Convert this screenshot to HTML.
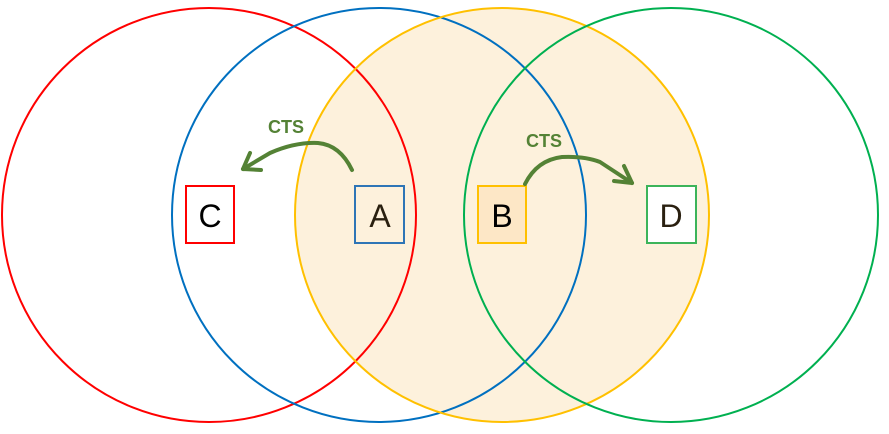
<!DOCTYPE html>
<html><head><style>body{margin:0;background:#fff}</style></head><body>
<svg width="889" height="429" viewBox="0 0 889 429" xmlns="http://www.w3.org/2000/svg" font-family="Liberation Sans, sans-serif">
<circle cx="502" cy="215" r="207" fill="#fdf1dc"/>
<circle cx="209" cy="215" r="207" fill="none" stroke="#ff0000" stroke-width="2"/>
<circle cx="379" cy="215" r="207" fill="none" stroke="#0070c0" stroke-width="2"/>
<circle cx="502" cy="215" r="207" fill="none" stroke="#ffc000" stroke-width="2"/>
<circle cx="671" cy="215" r="207" fill="none" stroke="#00b050" stroke-width="2"/>
<rect x="186" y="186" width="48" height="57" fill="#fff" stroke="#ff0000" stroke-width="2"/>
<rect x="355" y="186" width="49" height="57" fill="none" stroke="#2e75b6" stroke-width="2"/>
<rect x="478" y="186" width="48" height="57" fill="#fde7c6" stroke="#ffc000" stroke-width="2"/>
<rect x="647" y="186" width="49" height="57" fill="#fff" stroke="#3cb45a" stroke-width="2"/>
<g font-size="32" text-anchor="middle" fill="#000">
<text x="210" y="227">C</text><text x="380" y="227" fill="#2a2010">A</text><text x="502" y="227">B</text><text x="671" y="227" fill="#2a2010">D</text>
</g>
<g fill="none" stroke="#548235" stroke-width="4" stroke-linecap="round" stroke-linejoin="round">
<path d="M352,170 Q340,145 318,143 Q295,142 270,153 L243,169"/>
<path d="M243,169 L250,153 M243,169 L261,170"/>
<path d="M525,184 Q537,160 562,157 Q585,156 600,162 L632,183"/>
<path d="M632,183 L624,166 M632,183 L614,181"/>
</g>
<g font-size="18" font-weight="bold" fill="#548235">
<text x="268" y="133">CTS</text><text x="526" y="147">CTS</text>
</g>
</svg>
</body></html>
